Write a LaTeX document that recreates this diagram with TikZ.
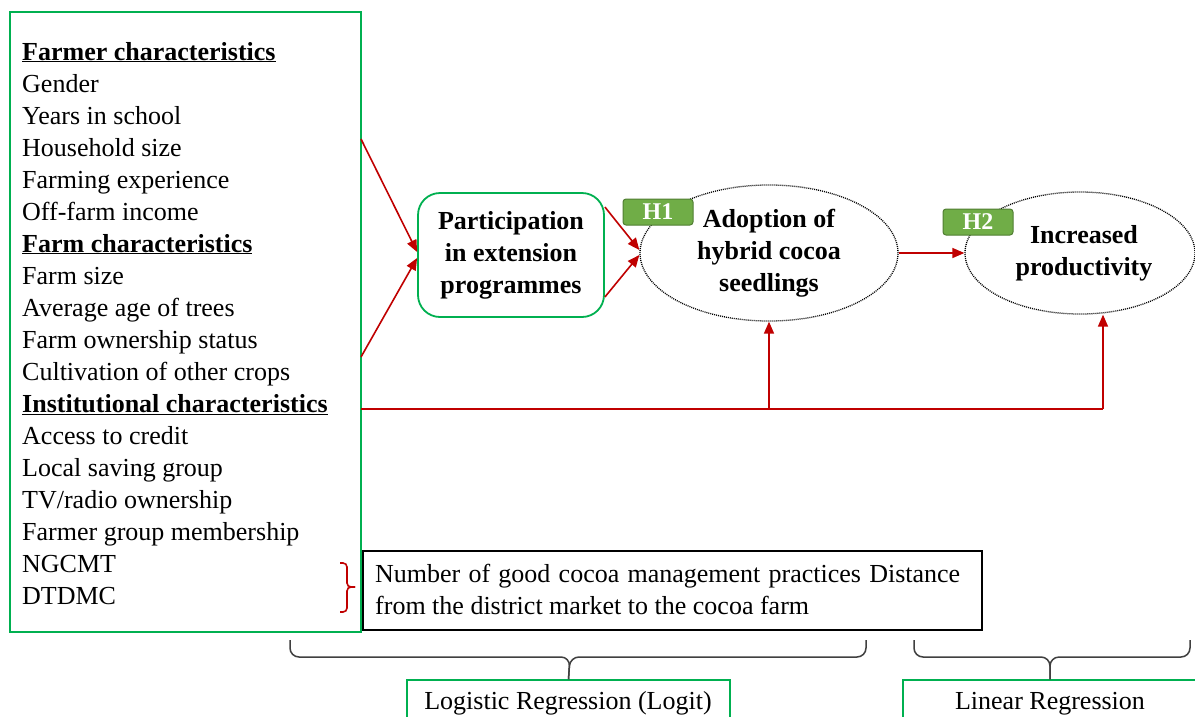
\documentclass[tikz,border=0pt]{standalone}
\usepackage{fontspec}
\setmainfont{Liberation Serif}
\usetikzlibrary{shapes.geometric,arrows.meta}
\definecolor{grn}{HTML}{00B050}
\definecolor{rd}{HTML}{C00000}
\definecolor{hfill}{HTML}{70AD47}
\definecolor{hdraw}{HTML}{507E32}
\definecolor{brc}{HTML}{404040}
\newcommand\fsz{\fontsize{26pt}{32pt}\selectfont}
\begin{document}
\begin{tikzpicture}[x=1pt,y=-1pt,
  every node/.style={font=\fsz},
  link/.style={draw=rd,line width=1.6pt,-{Triangle[length=12pt,width=10pt]}},
  plainlink/.style={draw=rd,line width=1.6pt},
  greenbox/.style={draw=grn,line width=1.5pt,inner sep=0pt},
  oval/.style={ellipse,draw,line width=1.3pt,dash pattern=on 1pt off 1pt,align=center,font=\fsz\bfseries,inner sep=0pt},
  hbadge/.style={draw=hdraw,fill=hfill,line width=1pt,rounded corners=3pt,text=white,font=\fontsize{24pt}{28pt}\selectfont\bfseries,minimum width=70pt,minimum height=26pt,inner sep=0pt},
  bracefig/.style={draw=brc,line width=1.5pt,rounded corners=9pt},
  redbrace/.style={draw=rd,line width=1.6pt,rounded corners=4pt}]
\clip (0,0) rectangle (1195,716);
\fill[white] (0,0) rectangle (1195,716);

% left variables box
\node[greenbox,minimum width=351pt,minimum height=620pt] (lb) at (185.5,322) {};
\foreach \t [count=\i] in {{\underline{\textbf{Farmer characteristics}}},Gender,Years in school,Household size,Farming experience,Off-farm income,{\underline{\textbf{Farm characteristics}}},Farm size,Average age of trees,Farm ownership status,Cultivation of other crops,{\underline{\textbf{Institutional characteristics}}},Access to credit,Local saving group,TV/radio ownership,Farmer group membership,NGCMT,DTDMC}
  \node[anchor=base west,inner sep=0pt] (v\i) at (22,{28+32*\i}) {\t};

\coordinate (s1) at (361,139);
\coordinate (s2) at (361,357);
\coordinate (s3) at (361,409);
\coordinate (c1) at (1103,409);

% participation
\node[draw=grn,line width=1.8pt,rounded corners=22pt,minimum width=186pt,minimum height=124pt,align=center,font=\fsz\bfseries,inner sep=0pt] (pa) at (511,255) {Participation\\in extension\\programmes};

% ellipses
\node[oval,minimum width=258pt,minimum height=136pt] (ad) at (769,253) {Adoption of\\hybrid cocoa\\seedlings};
\node[oval,minimum width=230pt,minimum height=122pt] (ip) at (1080,253) {\hspace*{8pt}Increased\\\hspace*{8pt}productivity};

\node[hbadge] (h1) at (658,212) {H1};
\node[hbadge] (h2) at (978,222) {H2};

% connectors
\draw[link] (s1) -- ([yshift=3pt]pa.west);
\draw[link] (s2) -- ([yshift=-3pt]pa.west);
\draw[link] ([yshift=48pt]pa.east) -- ([yshift=3pt]ad.west);
\draw[link] ([yshift=-42pt]pa.east) -- ([yshift=-2pt]ad.west);
\draw[link] (ad.east) -- (ip.west);
\draw[plainlink] (s3) -- (c1);
\draw[link] (c1) -- (c1 |- ip.south);
\draw[link] (ad.south |- s3) -- (ad.south);

% note box
\node[draw,line width=1.8pt,minimum width=619pt,minimum height=79pt,inner sep=0pt] (nb) at (672.5,590.5) {};
\node[anchor=base west,inner sep=0pt,align=left] (nbt) at (375,614)
  {\makebox[585pt][s]{Number of good cocoa management practices Distance}\\from the district market to the cocoa farm};

% red bracket
\coordinate (rb) at (355,587);
\draw[redbrace] (340,563) -- (347,563) -- (347,587) -- (rb);
\draw[redbrace] (340,612) -- (347,612) -- (347,587) -- (rb);

% method boxes
\node[greenbox,minimum width=323pt,minimum height=40pt] (lr) at (568.5,700) {};
\node[anchor=base,inner sep=0pt] (lrt) at (568,709) {Logistic Regression (Logit)};
\node[greenbox,minimum width=294pt,minimum height=40pt] (li) at (1050,700) {};
\node[anchor=base,inner sep=0pt] (lit) at (1050,709) {Linear Regression};

% bottom braces
\draw[bracefig] (290,640) -- (290,657) -- (570,657) -- (lr.north);
\draw[bracefig] (866,640) -- (866,657) -- (570,657) -- (lr.north);
\draw[bracefig] (914,640) -- (914,657) -- (1050,657) -- (li.north);
\draw[bracefig] (1190,640) -- (1190,657) -- (1050,657) -- (li.north);
\end{tikzpicture}
\end{document}
